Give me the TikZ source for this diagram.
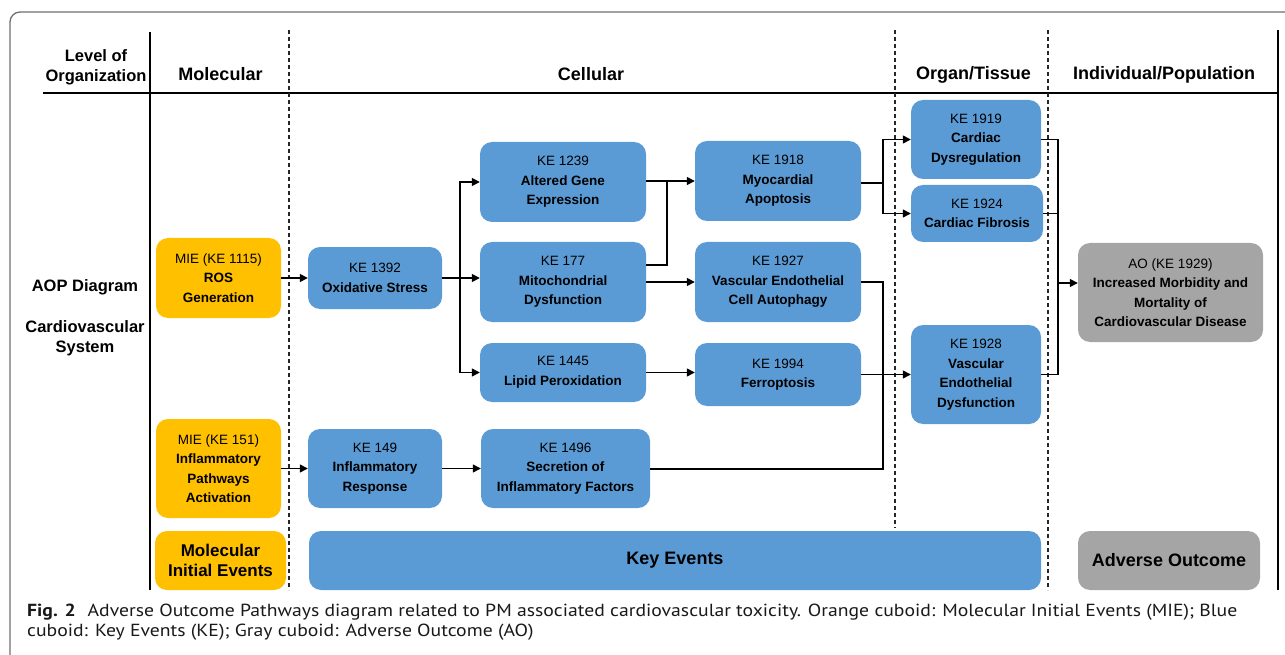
\documentclass[tikz,border=0pt]{standalone}
\usepackage{fontspec}
\setmainfont{Liberation Sans}
\newfontfamily\capfont[FakeStretch=1.125]{PT Sans}
\usetikzlibrary{arrows.meta}
\definecolor{keblue}{HTML}{5B9BD5}
\definecolor{mieorange}{HTML}{FFC000}
\definecolor{aogray}{HTML}{A5A5A5}
\definecolor{framegray}{HTML}{6E6E6E}
\begin{document}
\begin{tikzpicture}[x=1pt,y=-1pt,
  box/.style={rounded corners=12pt, inner sep=0pt, align=center, text=black,
    font=\fontsize{13.5}{19.5}\selectfont},
  kebox/.style={box, fill=keblue},
  miebox/.style={box, fill=mieorange},
  aobox/.style={box, fill=aogray},
  legendtext/.style={font=\bfseries\fontsize{18}{19.5}\selectfont},
  conn/.style={line width=1.4pt, black},
  arr/.style={conn, -{Triangle[length=8pt,width=8pt]}},
  hdr/.style={font=\bfseries\fontsize{18}{20}\selectfont, align=center, inner sep=0pt},
  lefthdr/.style={font=\bfseries\fontsize{16.5}{19.5}\selectfont, align=center, inner sep=0pt},
  rule/.style={line width=2pt, black},
  dashline/.style={line width=1.3pt, dash pattern=on 4pt off 3pt, black!85},
  captext/.style={font=\capfont\fontsize{17.5}{20}\selectfont, inner sep=0pt, anchor=base west, text=black!90},
]
\useasboundingbox (0,0) rectangle (1285,655);
\clip (0,0) rectangle (1285,655);
% outer frame
\draw[line width=1.3pt, framegray, rounded corners=10pt] (10,720) -- (10,12) -- (1340,12);
% table rules
\draw[rule] (43,93) -- (1278,93);
\draw[rule] (150,32) -- (150,590);
\draw[rule] (1278,30) -- (1278,590);
\draw[dashline] (289,30) -- (289,590);
\draw[dashline] (895,30) -- (895,528);
\draw[dashline] (1048,30) -- (1048,590);
% headers
\node[lefthdr] (hlevel) at (96,67.5) {Level of\\Organization};
\node[hdr] (hmol) at (220.5,74.5) {Molecular};
\node[hdr] (hcell) at (591,74.5) {Cellular};
\node[hdr] (horgan) at (973.5,74.5) {Organ/Tissue};
\node[hdr] (hind) at (1164,74.5) {Individual/Population};
\node[lefthdr] (haop) at (85,287.5) {AOP Diagram};
\node[lefthdr] (hcvs) at (85,338) {Cardiovascular\\System};
% boxes
\node[miebox, minimum width=125pt, minimum height=80pt] (mie1115) at (218.5,278) {MIE (KE 1115)\\\textbf{ROS}\\\textbf{Generation}};
\node[kebox, minimum width=134pt, minimum height=62pt] (ke1392) at (375,278) {KE 1392\\\textbf{Oxidative Stress}};
\node[kebox, minimum width=166pt, minimum height=80pt] (ke1239) at (563,182) {KE 1239\\\textbf{Altered Gene}\\\textbf{Expression}};
\node[kebox, minimum width=166pt, minimum height=80pt] (ke177) at (563,282) {KE 177\\\textbf{Mitochondrial}\\\textbf{Dysfunction}};
\node[kebox, minimum width=166pt, minimum height=59pt] (ke1445) at (563,372.5) {KE 1445\\\textbf{Lipid Peroxidation}};
\node[kebox, minimum width=166pt, minimum height=80pt] (ke1918) at (778,181) {KE 1918\\\textbf{Myocardial}\\\textbf{Apoptosis}};
\node[kebox, minimum width=166pt, minimum height=80pt] (ke1927) at (778,282) {KE 1927\\\textbf{Vascular Endothelial}\\\textbf{Cell Autophagy}};
\node[kebox, minimum width=166pt, minimum height=63pt] (ke1994) at (778,374.5) {KE 1994\\\textbf{Ferroptosis}};
\node[kebox, minimum width=130pt, minimum height=79pt] (ke1919) at (976,139.5) {KE 1919\\\textbf{Cardiac}\\\textbf{Dysregulation}};
\node[kebox, minimum width=132pt, minimum height=57pt] (ke1924) at (977,213.5) {KE 1924\\\textbf{Cardiac Fibrosis}};
\node[kebox, minimum width=130pt, minimum height=99pt] (ke1928) at (976,374.5) {KE 1928\\\textbf{Vascular}\\\textbf{Endothelial}\\\textbf{Dysfunction}};
\node[aobox, minimum width=185pt, minimum height=99pt] (ao1929) at (1170.5,292.5) {AO (KE 1929)\\\textbf{Increased Morbidity and}\\\textbf{Mortality of}\\\textbf{Cardiovascular Disease}};
\node[miebox, minimum width=125pt, minimum height=99pt] (mie151) at (218.5,468.5) {MIE (KE 151)\\\textbf{Inflammatory}\\\textbf{Pathways}\\\textbf{Activation}};
\node[kebox, minimum width=134pt, minimum height=79pt] (ke149) at (375,468.5) {KE 149\\\textbf{Inflammatory}\\\textbf{Response}};
\node[kebox, minimum width=169pt, minimum height=79pt] (ke1496) at (565.5,468.5) {KE 1496\\\textbf{Secretion of}\\\textbf{Inflammatory Factors}};
% legend
\node[miebox, legendtext, font=\bfseries\fontsize{17}{19.5}\selectfont, minimum width=131pt, minimum height=59pt] (lmie) at (220.5,560.5) {Molecular\\Initial Events};
\node[kebox, legendtext, minimum width=732pt, minimum height=59pt] (lke) at (675,560.5) {Key Events};
\node[aobox, legendtext, minimum width=182pt, minimum height=59pt] (lao) at (1169,560.5) {Adverse Outcome};
% connectors
\draw[arr] (mie1115) -- (ke1392);
\coordinate (s1) at (460,278);
\draw[conn] (ke1392.east) -- (s1);
\draw[arr] (s1) |- (ke1239.west);
\draw[arr] (s1) -- (s1 -| ke177.west);
\draw[arr] (s1) |- (ke1445.west);
\coordinate (j1) at (667,181);
\draw[arr] (ke1239.east |- j1) -- (j1 -| ke1918.west);
\draw[conn] ([yshift=17pt]ke177.east) -| (j1);
\draw[arr] (ke177) -- (ke1927);
\draw[arr] (ke1445.east) -- (ke1445.east -| ke1994.west);
\coordinate (b1) at (883,183);
\draw[conn] (ke1918.east |- b1) -- (b1);
\draw[arr] (b1) |- (ke1919.west);
\draw[arr] (b1) |- (ke1924.west);
\coordinate (b2) at (883,282);
\coordinate (b3) at (883,469);
\draw[conn] (ke1927.east) -- (b2) -- (b3) -- (b3 -| ke1496.east);
\draw[arr] (ke1994.east) -- (ke1928.west);
\coordinate (r1) at (1058,139.5);
\coordinate (r2) at (1058,374.5);
\coordinate (r3) at (1058,283);
\draw[conn] (ke1919.east) -- (r1) -- (r2) -- (ke1928.east);
\draw[conn] (ke1924.east) -- (ke1924.east -| r1);
\draw[arr] (r3) -- (r3 -| ao1929.west);
\draw[arr] (mie151) -- (ke149);
\draw[arr] (ke149) -- (ke1496);
% caption
\node[captext] (cap1) at (27,616.7) {{\bfseries Fig. 2}\hspace{12pt}Adverse Outcome Pathways diagram related to PM associated cardiovascular toxicity. Orange cuboid: Molecular Initial Events (MIE); Blue};
\node[captext] (cap2) at (27,636.7) {cuboid: Key Events (KE); Gray cuboid: Adverse Outcome (AO)};
\end{tikzpicture}
\end{document}
